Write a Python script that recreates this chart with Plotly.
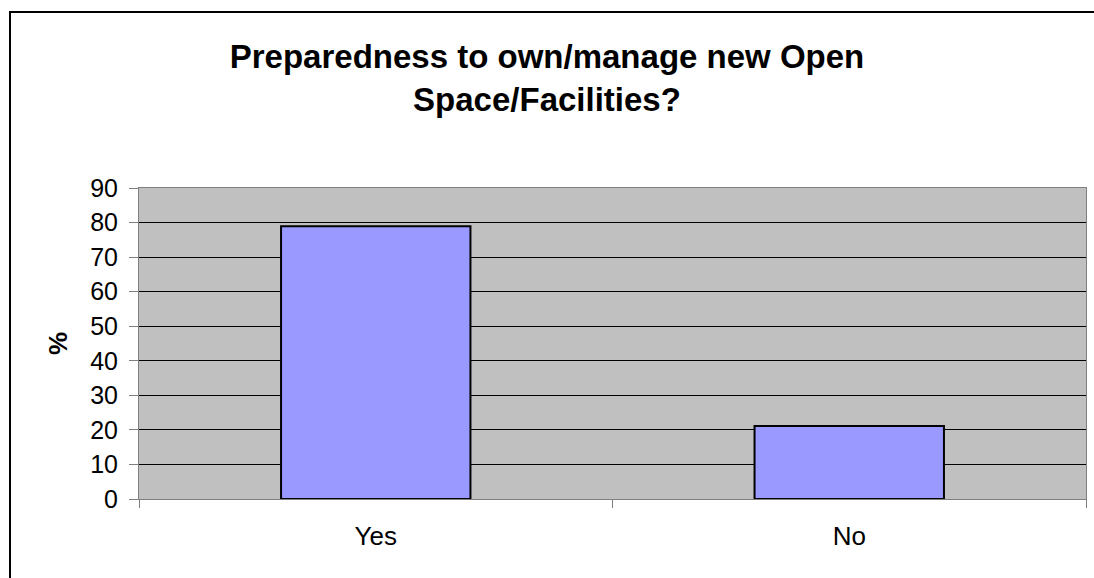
import plotly.graph_objects as go

categories = ["Yes", "No"]
values = [78.9, 21.1]
y_ticks = [0, 10, 20, 30, 40, 50, 60, 70, 80, 90]
title_text = "Preparedness to own/manage new Open<br>Space/Facilities?"
y_title = "%"

W, H = 1094, 578
L, R, T, B = 139, 1086, 188, 499

fig = go.Figure()
fig.add_trace(go.Bar(
    x=categories, y=values,
    marker=dict(color="#9999FF", line=dict(color="black", width=2)),
    width=0.4,
))

font = "Liberation Sans, Arial, sans-serif"
pw, ph = R - L, B - T
fig.update_layout(
    width=W, height=H,
    margin=dict(l=L, r=W - R, t=T, b=H - B, pad=0),
    paper_bgcolor="white",
    plot_bgcolor="#C0C0C0",
    showlegend=False,
    font=dict(family=font, color="black"),
    title=dict(text="<b>" + title_text + "</b>", x=0.5, xanchor="center",
               y=1 - 68 / H, yanchor="middle", yref="container",
               font=dict(size=33, family=font, color="black")),
    xaxis=dict(
        type="category", tickson="boundaries", ticks="outside", ticklen=8,
        tickcolor="#808080", showline=True, linecolor="#808080", linewidth=1,
        mirror=True, showgrid=False, tickfont=dict(size=26, family=font),
        ticklabelstandoff=14,
    ),
    yaxis=dict(
        range=[0, 90], tickvals=y_ticks, ticks="outside", ticklen=9,
        tickcolor="#808080", showline=True, linecolor="#808080", linewidth=1,
        mirror=True, showgrid=True, gridcolor="black", gridwidth=1,
        zeroline=False, tickfont=dict(size=25, family=font),
        ticklabelstandoff=6,
        title=dict(text="<b>" + y_title + "</b>", font=dict(size=26, family=font), standoff=15),
    ),
    shapes=[dict(type="rect", xref="paper", yref="paper",
                 x0=(10 - L) / pw, x1=(1100 - L) / pw,
                 y0=(B - 590) / ph, y1=(B - 12) / ph,
                 line=dict(color="black", width=2), fillcolor="rgba(0,0,0,0)", layer="above")],
)

fig.write_html("out.html",
               config={"displayModeBar": False},
               post_script="document.body.style.margin='0';document.body.style.overflow='hidden';")
